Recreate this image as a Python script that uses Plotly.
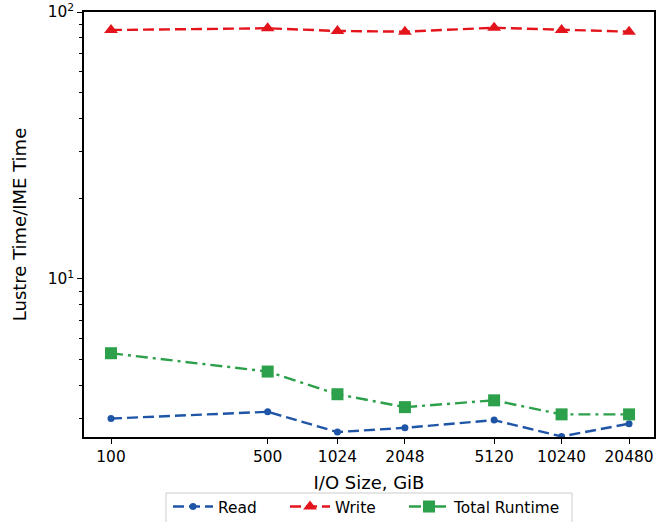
import plotly.graph_objects as go

sizes = [100, 500, 1024, 2048, 5120, 10240, 20480]
size_labels = ["100", "500", "1024", "2048", "5120", "10240", "20480"]
read_ratio = [3.0, 3.18, 2.67, 2.77, 2.96, 2.57, 2.87]
write_ratio = [85.6, 86.9, 84.9, 84.4, 87.3, 85.6, 84.4]
total_ratio = [5.27, 4.50, 3.70, 3.31, 3.51, 3.11, 3.11]

FONT = 15.4

fig = go.Figure()
fig.add_trace(go.Scatter(x=sizes, y=read_ratio, name="Read", mode="lines+markers",
                         legend="legend",
                         line=dict(color="#1f55a6", width=2.4, dash="11px,5px"),
                         marker=dict(symbol="circle", size=7, color="#1f55a6")))
fig.add_trace(go.Scatter(x=sizes, y=write_ratio, name="Write", mode="lines+markers",
                         legend="legend2",
                         line=dict(color="#e3141c", width=2.4, dash="11px,5px"),
                         marker=dict(symbol="triangle-up", size=12, color="#e3141c")))
fig.add_trace(go.Scatter(x=sizes, y=total_ratio, name="Total Runtime", mode="lines+markers",
                         legend="legend3",
                         line=dict(color="#2ca04a", width=2.4, dash="12px,5px,3px,5px"),
                         marker=dict(symbol="square", size=12, color="#2ca04a")))

minor_y = [3, 4, 5, 6, 7, 8, 9, 20, 30, 40, 50, 60, 70, 80, 90]

# plot area in pixels: x 84..654, y 12..437
def px(x):
    return (x - 84) / 570.0

def py(y):
    return (437 - y) / 425.0

leg_common = dict(orientation="h", yanchor="middle", y=py(507), xanchor="left",
                  bgcolor="rgba(0,0,0,0)", borderwidth=0, itemwidth=40,
                  font=dict(size=FONT))

fig.update_layout(
    width=665, height=522,
    margin=dict(l=84, r=11, t=12, b=85, autoexpand=False),
    plot_bgcolor="white", paper_bgcolor="white",
    font=dict(family="DejaVu Sans", size=FONT, color="black"),
    showlegend=True,
    legend=dict(x=px(168), **leg_common),
    legend2=dict(x=px(285), **leg_common),
    legend3=dict(x=px(404), **leg_common),
    shapes=[dict(type="rect", xref="paper", yref="paper",
                 x0=px(166), x1=px(572), y0=py(532), y1=py(493),
                 line=dict(color="#cccccc", width=1), layer="above")],
    xaxis=dict(type="log", range=[1.8795, 4.4226], tickvals=sizes, ticktext=size_labels,
               automargin=False,
               showline=True, linecolor="black", linewidth=1.5, mirror=True,
               ticks="outside", ticklen=5, tickcolor="black", showgrid=False, zeroline=False,
               title=dict(text="I/O Size, GiB", standoff=11)),
    yaxis=dict(type="log", range=[0.408, 2.0], tickvals=[10, 100],
               ticktext=["10<sup>1</sup>", "10<sup>2</sup>"],
               automargin=False,
               showline=True, linecolor="black", linewidth=1.5, mirror=True,
               ticks="outside", ticklen=5, tickcolor="black", showgrid=False, zeroline=False,
               minor=dict(tickvals=minor_y, ticks="outside", ticklen=3, tickcolor="black"),
               title=dict(text="Lustre Time/IME Time", standoff=16)),
)

fig.write_html("out.html", config={"displayModeBar": False},
               post_script="document.body.style.margin='0';")
